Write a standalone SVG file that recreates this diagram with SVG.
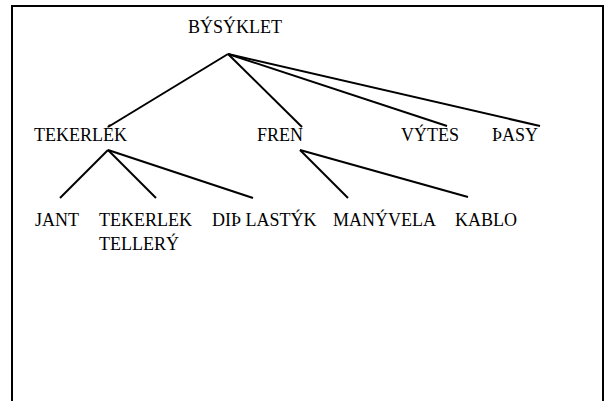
<svg xmlns="http://www.w3.org/2000/svg" width="615" height="401" viewBox="0 0 615 401">
  <style>
    .bg { fill: #ffffff; }
    .frame { fill: none; stroke: #000000; stroke-width: 2; }
    .edge { stroke: #000000; stroke-width: 2; stroke-linecap: butt; fill: none; }
    .label { font-family: 'Liberation Serif', 'DejaVu Serif', serif; font-size: 18px; fill: #000000; }
  </style>
  <rect class="bg" x="0" y="0" width="615" height="401"/>
  <!-- page frame, open at the bottom -->
  <path class="frame" d="M12,402 V6 H603 V402"/>

  <g id="connectors">
    <line class="edge" x1="228" y1="54" x2="108" y2="127"/>
    <line class="edge" x1="228" y1="54" x2="302" y2="127"/>
    <line class="edge" x1="228" y1="54" x2="447" y2="126"/>
    <line class="edge" x1="228" y1="54" x2="540" y2="126"/>
    <line class="edge" x1="108" y1="150" x2="60" y2="198"/>
    <line class="edge" x1="108" y1="150" x2="156" y2="198"/>
    <line class="edge" x1="108" y1="150" x2="253" y2="198"/>
    <line class="edge" x1="300" y1="150" x2="348" y2="198"/>
    <line class="edge" x1="300" y1="150" x2="468" y2="197"/>
  </g>

  <g id="node-bisiklet"><text class="label" x="188" y="33">BÝSÝKLET</text></g>
  <g id="node-tekerlek"><text class="label" x="34" y="141">TEKERLÉK</text></g>
  <g id="node-fren"><text class="label" x="257" y="141">FREN</text></g>
  <g id="node-vites"><text class="label" x="401" y="141">VÝTES</text></g>
  <g id="node-pasy"><text class="label" x="492" y="141">ÞASY</text></g>
  <g id="node-jant"><text class="label" x="35" y="226">JANT</text></g>
  <g id="node-teller"><text class="label" x="99" y="226">TEKERLEK</text><text class="label" x="99" y="250">TELLERÝ</text></g>
  <g id="node-dislastik"><text class="label" x="212" y="226">DIÞ LASTÝK</text></g>
  <g id="node-manivela"><text class="label" x="333" y="226">MANÝVELA</text></g>
  <g id="node-kablo"><text class="label" x="455" y="226">KABLO</text></g>
</svg>
